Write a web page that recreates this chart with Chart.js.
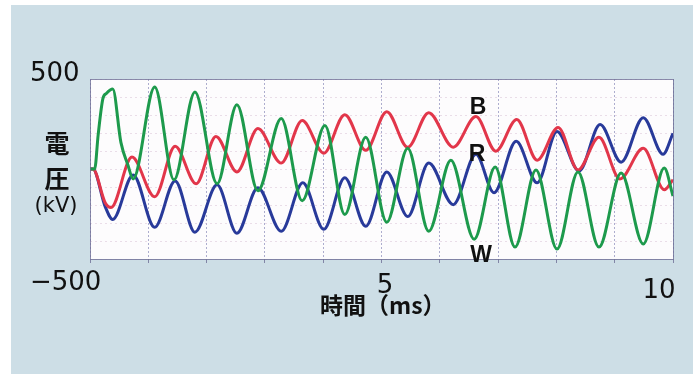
<!DOCTYPE html>
<html>
<head>
<meta charset="utf-8">
<script src="https://cdn.jsdelivr.net/npm/chart.js@4"></script>
<style>
  html, body { margin: 0; padding: 0; background: #fff; }
  #wrap { width: 696px; height: 374px; }
</style>
</head>
<body>
<div id="wrap"><canvas id="voltChart" width="696" height="374"></canvas></div>
<script>
// time (ms) and voltage (kV)
const timeW = [0, 0.08, 0.14, 0.22, 0.28, 0.39, 0.53, 0.65, 0.74, 1.11, 1.44, 1.80, 2.18, 2.52, 2.88, 3.28, 3.64, 4.03, 4.37, 4.73, 5.09, 5.45, 5.81, 6.19, 6.59, 6.95, 7.29, 7.65, 8.01, 8.37, 8.73, 9.11, 9.49, 9.85, 10.0];
const voltW = [0, 0, 190, 390, 420, 445, 148, 22, -55, 456, -60, 428, -82, 357, -121, 280, -176, 242, -253, 176, -296, 115, -346, 49, -390, 11, -434, -5, -445, -16, -434, -22, -417, 5, -150];

const timeB = [0, 0.05, 0.26, 0.36, 0.72, 1.11, 1.46, 1.82, 2.16, 2.52, 2.88, 3.28, 3.64, 4.01, 4.37, 4.73, 5.09, 5.45, 5.81, 6.23, 6.62, 6.96, 7.32, 7.67, 8.03, 8.37, 8.73, 9.09, 9.49, 9.85, 10.0];
const voltB = [0, 0, -187, -214, 66, -154, 126, -82, 181, -16, 225, 33, 269, 88, 302, 104, 318, 121, 313, 121, 291, 99, 275, 49, 231, -5, 176, -55, 115, -115, -60];

const timeR = [0, 0.05, 0.26, 0.39, 0.74, 1.11, 1.46, 1.80, 2.18, 2.52, 2.88, 3.28, 3.65, 4.01, 4.37, 4.73, 5.09, 5.45, 5.81, 6.23, 6.62, 6.93, 7.31, 7.67, 8.01, 8.39, 8.75, 9.11, 9.49, 9.83, 10.0];
const voltR = [0, 0, -209, -280, -33, -324, -66, -351, -88, -357, -104, -346, -77, -335, -49, -318, -16, -264, 33, -198, 82, -132, 154, -77, 209, -11, 247, 38, 285, 82, 198];

const yTickLabels = ['500', '−500'];
const xTickLabels = ['5', '10'];

function pts(ts, vs) {
    return ts.map((t, i) => ({ x: t, y: vs[i] }));
}

// page background, white plot panel and frame
const panelPlugin = {
    id: 'panel',
    beforeDraw(chart) {
        const c = chart.ctx;
        const a = chart.chartArea;
        c.save();
        c.fillStyle = '#ffffff';
        c.fillRect(0, 0, chart.width, chart.height);
        c.fillStyle = '#cddee6';
        c.fillRect(11, 5, 682, 369);
        c.fillStyle = '#fdfcfd';
        c.fillRect(a.left, a.top, a.right - a.left, a.bottom - a.top);
        c.restore();
    },
    afterDatasetsDraw(chart) {
        const c = chart.ctx;
        const a = chart.chartArea;
        c.save();
        c.strokeStyle = 'rgba(110,110,150,0.8)';
        c.lineWidth = 1;
        c.strokeRect(a.left + 0.5, a.top + 0.5, a.right - a.left, a.bottom - a.top);
        c.restore();
    }
};

// big hand-set labels of the figure
const labelPlugin = {
    id: 'labels',
    afterDraw(chart) {
        const c = chart.ctx;
        c.save();
        c.fillStyle = '#111111';
        c.textBaseline = 'middle';
        c.textAlign = 'left';
        c.font = '26px "DejaVu Sans"';
        c.fillText(yTickLabels[0], 30, 74);
        c.fillText(yTickLabels[1], 30, 283);
        c.textAlign = 'center';
        c.fillText(xTickLabels[0], 385, 286);
        c.fillText(xTickLabels[1], 659, 291);

        c.font = 'bold 25px "Noto Sans CJK JP"';
        c.fillText('電', 57, 143);
        c.fillText('圧', 57, 178);
        c.font = '21px "DejaVu Sans"';
        c.fillText('(kV)', 56, 207);

        c.font = 'bold 23px "Noto Sans CJK JP"';
        c.textAlign = 'left';
        c.fillText('時間（ms）', 320, 305);

        c.font = 'bold 23px "Liberation Sans"';
        c.textAlign = 'center';
        c.fillText('B', 478, 108);
        c.fillText('R', 477, 155);
        c.fillText('W', 481, 256);
        c.restore();
    }
};

const lineStyle = {
    borderWidth: 3,
    pointRadius: 0,
    fill: false,
    cubicInterpolationMode: 'monotone'
};

new Chart(document.getElementById('voltChart').getContext('2d'), {
    type: 'line',
    data: {
        datasets: [
            Object.assign({ label: 'W', data: pts(timeW, voltW), borderColor: '#1d9a4c' }, lineStyle),
            Object.assign({ label: 'B', data: pts(timeB, voltB), borderColor: '#e2364a' }, lineStyle),
            Object.assign({ label: 'R', data: pts(timeR, voltR), borderColor: '#283a9a' }, lineStyle)
        ]
    },
    options: {
        responsive: false,
        animation: false,
        layout: { padding: { left: 90, right: 23, top: 79, bottom: 111 } },
        scales: {
            x: {
                type: 'linear',
                min: 0,
                max: 10,
                ticks: { display: false, stepSize: 1 },
                border: { display: false, dash: [2, 2] },
                grid: {
                    color: 'rgba(120,120,175,0.6)',
                    tickColor: 'rgba(110,110,150,0.8)',
                    tickLength: 4
                }
            },
            y: {
                min: -500,
                max: 500,
                ticks: { display: false, stepSize: 100 },
                border: { display: false, dash: [2, 3] },
                grid: {
                    color: 'rgba(205,175,200,0.4)',
                    drawTicks: false
                }
            }
        },
        plugins: {
            legend: { display: false },
            tooltip: { enabled: false }
        }
    },
    plugins: [panelPlugin, labelPlugin]
});
</script>
</body>
</html>
